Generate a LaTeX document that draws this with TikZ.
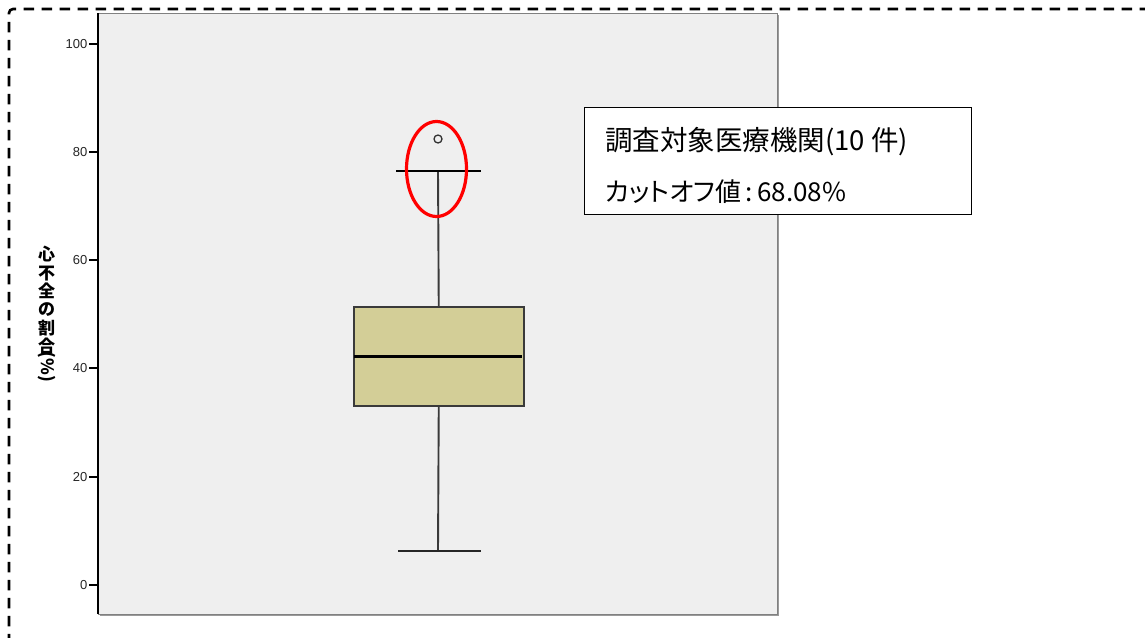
\documentclass[tikz,border=0pt]{standalone}
\usepackage{fontspec}
\setmainfont{Liberation Sans}
\newfontfamily\jp[RawFeature=+palt]{Noto Sans CJK JP}
\newfontfamily\jpv{Noto Sans CJK JP}
\definecolor{plotbg}{HTML}{EFEFEF}
\definecolor{boxfill}{HTML}{D3CE97}
\definecolor{boxline}{HTML}{3A3A3A}
\definecolor{framegray}{HTML}{808080}
\begin{document}
\begin{tikzpicture}[x=1pt,y=-1pt,
  ticklab/.style={anchor=east,inner sep=0pt,font=\fontsize{13}{15}\selectfont,text=black!85},
  whisk/.style={draw=boxline,line width=1.9pt},
  whiskcap/.style={draw=black!85,line width=2pt},
  infobox/.style={draw=black,line width=1.4pt,fill=white,minimum width=387pt,minimum height=107pt,anchor=north west,inner sep=0pt},
  infotext/.style={anchor=west,inner sep=0pt,font=\jp\fontsize{26}{28}\selectfont}]
\useasboundingbox (0,0) rectangle (1145,637);
\fill[white] (0,0) rectangle (1145,637);
% dashed outer frame
\draw[line width=2.6pt,dash pattern=on 10.5pt off 7.5pt,rounded corners=4pt] (1150,9) -- (9,9) -- (9,645);
% plot area
\fill[framegray!80] (100,15) rectangle (779,616);
\node[draw=framegray,line width=1.2pt,fill=plotbg,anchor=north west,minimum width=679pt,minimum height=601pt,inner sep=0pt] (plot) at (98,13) {};
\draw[black,line width=1.5pt] (98,13) -- (98,614);
% ticks
\foreach \v/\yy in {100/44,80/152,60/260,40/368,20/477,0/585}{
  \draw[black,line width=1.2pt] (89,\yy) -- (98,\yy);
  \node[ticklab] (t\v) at (87.5,\yy+0.5) {\v};
}
% y-axis title
\node[align=center,inner sep=0pt,font=\jpv\bfseries\fontsize{17}{18.4}\selectfont,anchor=north] (ytitle) at (46.5,246)
  {心\\不\\全\\の\\割\\合};
\node[rotate=-90,anchor=west,inner sep=0pt,font=\jpv\bfseries\fontsize{17}{18}\selectfont] (ypct) at ([yshift=3pt]ytitle.south) {(\%)};
% box plot
\coordinate (lw) at (438,551);
\coordinate (uw) at (438,171);
\node[draw=boxline,line width=1.5pt,fill=boxfill,anchor=north west,minimum width=170pt,minimum height=99pt,inner sep=0pt] (box) at (353,306) {};
\draw[whisk] (box.south) -- (lw);
\draw[whisk] (box.north) -- (uw);
\coordinate (lcl) at (398,551); \coordinate (lcr) at (481,551);
\coordinate (ucl) at (396,171); \coordinate (ucr) at (481,171);
\draw[whiskcap] (lcl) -- (lcr);
\draw[black,line width=2.8pt] (ucl) -- (ucr);
\coordinate (ml) at (354,356); \coordinate (mr) at (522,356);
\draw[black,line width=3pt] (ml) -- (mr);
\node[circle,draw=black!80,line width=1.3pt,minimum size=8pt,inner sep=0pt] (outlier) at (438,139) {};
% red ellipse
\draw[red,line width=3.2pt] (436.5,169) ellipse [x radius=30pt,y radius=47.5pt];
% info box
\node[infobox] (info) at (584,107) {};
\node[infotext,font=\jp\fontsize{27.5}{29}\selectfont] (l1) at (605,142) {調査対象医療機関(10 件)};
\node[infotext] (l2) at (605,192) {カットオフ値\,:\,68.08\%};
\end{tikzpicture}
\end{document}
